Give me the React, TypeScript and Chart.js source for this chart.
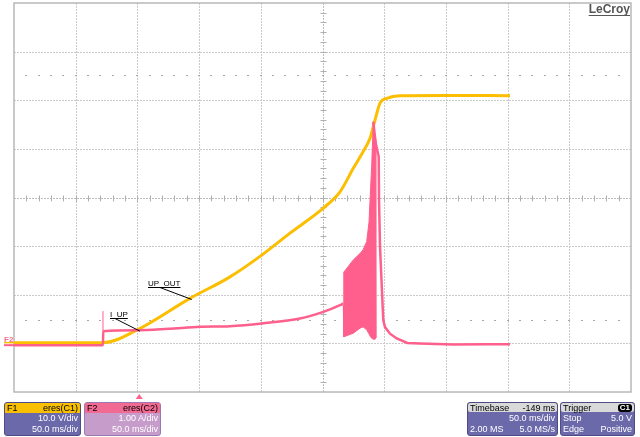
import React, { useEffect, useRef } from "react";
import { Chart, registerables } from "chart.js";

Chart.register(...registerables);

// ---- Data (x in divisions 0..10, y in divisions -4..4) ----
const yellowX = [0, 1.442, 1.989, 2.853, 3.501, 4.015, 4.473, 5.013, 5.284, 5.499, 5.65, 5.77, 5.851, 5.932, 6.041, 6.256, 7.0, 8.039];
const yellowY = [-2.985, -2.985, -2.728, -2.074, -1.632, -1.185, -0.733, -0.218, 0.117, 0.599, 0.925, 1.22, 1.593, 1.942, 2.039, 2.093, 2.1, 2.093];

const pinkPreX = [0, 1.442, 1.446, 2.0, 2.5, 3.015, 3.5, 4.015, 4.635, 5.013, 5.284, 5.337];
const pinkPreY = [-3.037, -3.037, -2.749, -2.728, -2.7, -2.66, -2.646, -2.59, -2.49, -2.352, -2.214, -2.179];

const pinkPostX = [5.823, 5.862, 5.911, 5.916, 5.932, 5.985, 6.013, 6.094, 6.203, 6.374, 6.58, 7.12, 7.661, 8.039];
const pinkPostY = [1.558, 1.119, 0.837, -0.053, -1.014, -2.523, -2.666, -2.8, -2.9, -2.99, -3.002, -3.023, -3.016, -3.016];

const bandX = [5.337, 5.345, 5.499, 5.608, 5.657, 5.716, 5.754, 5.778, 5.797, 5.823, 5.851, 5.862, 5.867];
const bandUpper = [-2.179, -1.535, -1.284, -1.15, -1.078, -0.907, -0.506, 0.152, 0.646, 1.558, 1.181, -0.053, -2.89];
const bandLower = [-2.214, -2.866, -2.79, -2.687, -2.66, -2.722, -2.805, -2.866, -2.893, -2.913, -2.913, -2.913, -2.913];

const spikeX = [1.442, 1.442];
const spikeY = [-2.749, -2.337];

const gridXDivs = [1, 2, 3, 4, 6, 7, 8, 9];
const gridYDivs = [-3, -2, -1, 1, 2, 3];
const markerLevels = [2.52, -2.52];

const annotationLabels = ["UP_OUT", "I_UP"];
const annotationTextX = [2.172, 1.556];
const annotationTextY = [-1.837, -2.481];
const annotationStartX = [2.366, 1.637];
const annotationTipX = [2.88, 2.042];
const annotationTipY = [-2.097, -2.749];

const triggerX = 2.03;

const YELLOW = "#FCBE00";
const PINK = "#FF5F8C";
const FONT = '"Liberation Sans", Arial, sans-serif';

const toXY = (xs: number[], ys: number[]) => xs.map((x, i) => ({ x, y: ys[i] }));

const scopePlugin = {
  id: "scope",
  beforeDatasetsDraw(chart: any) {
    const { ctx, chartArea: a, scales } = chart;
    const xs = scales.x;
    const ys = scales.y;
    ctx.save();
    ctx.lineWidth = 1;
    ctx.strokeStyle = "#cbcbcb";
    ctx.setLineDash([2, 1]);
    for (const v of gridXDivs) {
      const px = Math.round(xs.getPixelForValue(v)) + 0.5;
      ctx.beginPath();
      ctx.moveTo(px, a.top);
      ctx.lineTo(px, a.bottom);
      ctx.stroke();
    }
    for (const v of gridYDivs) {
      const py = Math.round(ys.getPixelForValue(v)) + 0.5;
      ctx.beginPath();
      ctx.moveTo(a.left, py);
      ctx.lineTo(a.right, py);
      ctx.stroke();
    }
    // center axes
    ctx.strokeStyle = "#bdbdbd";
    const cx = Math.round(xs.getPixelForValue(5)) + 0.5;
    const cy = Math.round(ys.getPixelForValue(0)) + 0.5;
    ctx.beginPath();
    ctx.moveTo(cx, a.top);
    ctx.lineTo(cx, a.bottom);
    ctx.moveTo(a.left, cy);
    ctx.lineTo(a.right, cy);
    ctx.stroke();
    ctx.setLineDash([]);
    ctx.strokeStyle = "#b0b0b0";
    ctx.beginPath();
    for (let i = 1; i < 50; i++) {
      const px = Math.round(xs.getPixelForValue(i * 0.2)) + 0.5;
      ctx.moveTo(px, cy - 3);
      ctx.lineTo(px, cy + 3);
    }
    for (let i = 1; i < 40; i++) {
      const py = Math.round(ys.getPixelForValue(-4 + i * 0.2)) + 0.5;
      ctx.moveTo(cx - 3, py);
      ctx.lineTo(cx + 3, py);
    }
    ctx.stroke();
    // level markers (dotted)
    ctx.fillStyle = "#a8a8a8";
    for (const lv of markerLevels) {
      const py = Math.round(ys.getPixelForValue(lv));
      for (let i = 1; i < 50; i++) {
        const px = Math.round(xs.getPixelForValue(i * 0.2));
        ctx.fillRect(px - 1, py, 2, 1);
      }
    }
    // frame
    ctx.strokeStyle = "#b8b8b8";
    ctx.lineWidth = 1.5;
    ctx.strokeRect(a.left, a.top, a.right - a.left, a.bottom - a.top);
    ctx.restore();
  },
  afterDatasetsDraw(chart: any) {
    const { ctx, chartArea: a, scales } = chart;
    const xs = scales.x;
    const ys = scales.y;
    ctx.save();
    ctx.font = `8px ${FONT}`;
    ctx.fillStyle = "#000";
    ctx.strokeStyle = "#000";
    ctx.lineWidth = 1;
    annotationLabels.forEach((label, i) => {
      const tx = xs.getPixelForValue(annotationTextX[i]);
      const ty = Math.round(ys.getPixelForValue(annotationTextY[i])) + 0.5;
      ctx.textBaseline = "alphabetic";
      ctx.fillText(label, tx, ty - 2);
      const w = ctx.measureText(label).width;
      ctx.beginPath();
      ctx.moveTo(tx, ty);
      ctx.lineTo(tx + w, ty);
      ctx.moveTo(xs.getPixelForValue(annotationStartX[i]), ty);
      ctx.lineTo(xs.getPixelForValue(annotationTipX[i]), ys.getPixelForValue(annotationTipY[i]));
      ctx.stroke();
    });
    // trigger marker
    const trx = xs.getPixelForValue(triggerX);
    ctx.fillStyle = PINK;
    ctx.beginPath();
    ctx.moveTo(trx, a.bottom + 2);
    ctx.lineTo(trx - 3.5, a.bottom + 7);
    ctx.lineTo(trx + 3.5, a.bottom + 7);
    ctx.closePath();
    ctx.fill();
    // F2 ground marker
    const yl = ys.getPixelForValue(yellowY[0]);
    const pl = ys.getPixelForValue(pinkPreY[0]);
    ctx.strokeStyle = YELLOW;
    ctx.lineWidth = 1.5;
    ctx.beginPath();
    ctx.moveTo(4, yl);
    ctx.lineTo(a.left, yl);
    ctx.stroke();
    ctx.strokeStyle = PINK;
    ctx.lineWidth = 2;
    ctx.beginPath();
    ctx.moveTo(4, pl);
    ctx.lineTo(a.left, pl);
    ctx.stroke();
    ctx.fillStyle = "#F0708C";
    ctx.font = `bold 8px ${FONT}`;
    ctx.fillText("F2", 4, yl - 1);
    // LeCroy logo
    ctx.fillStyle = "#555";
    ctx.font = `bold 12px ${FONT}`;
    ctx.textAlign = "right";
    ctx.fillText("LeCroy", a.right - 1, 13);
    const lw = ctx.measureText("LeCroy").width;
    ctx.strokeStyle = "#555";
    ctx.lineWidth = 1;
    ctx.beginPath();
    ctx.moveTo(a.right - 1 - lw, 15.5);
    ctx.lineTo(a.right - 1, 15.5);
    ctx.stroke();
    ctx.restore();
  },
};

type Row = [string, string];

function Panel(props: {
  left: number;
  width: number;
  head: Row;
  rows: Row[];
  headBg: string;
  body: string;
  border: string;
  inset?: boolean;
  badge?: boolean;
}) {
  const { left, width, head, rows, headBg, body, border, inset, badge } = props;
  return (
    <div
      style={{
        position: "absolute",
        left,
        top: 402,
        width,
        height: 34,
        boxSizing: "border-box",
        border: `1px solid ${border}`,
        borderRadius: 3,
        background: body,
        overflow: "hidden",
        font: `9px ${FONT}`,
      }}
    >
      <div
        style={{
          height: inset ? 9 : 10,
          margin: inset ? "0 0 1px 0" : 0,
          borderRadius: inset ? 2 : 0,
          background: headBg,
          color: "#000",
          display: "flex",
          justifyContent: "space-between",
          alignItems: "center",
          padding: "0 2px",
          lineHeight: "10px",
        }}
      >
        <span>{head[0]}</span>
        {badge ? (
          <span
            style={{
              background: "#000",
              color: "#fff",
              borderRadius: 3,
              padding: "0 2px",
              fontSize: 8,
              fontWeight: "bold",
              lineHeight: "8px",
            }}
          >
            {head[1]}
          </span>
        ) : (
          <span>{head[1]}</span>
        )}
      </div>
      {rows.map((r, i) => (
        <div
          key={i}
          style={{
            height: 11,
            lineHeight: "11px",
            display: "flex",
            justifyContent: "space-between",
            padding: "0 2px",
            color: "#fff",
          }}
        >
          <span>{r[0]}</span>
          <span>{r[1]}</span>
        </div>
      ))}
    </div>
  );
}

export default function App() {
  const canvasRef = useRef<HTMLCanvasElement | null>(null);
  useEffect(() => {
    document.body.style.margin = "0";
    const canvas = canvasRef.current;
    if (!canvas) return;
    const chart = new Chart(canvas, {
      type: "line",
      data: {
        datasets: [
          {
            data: toXY(pinkPreX, pinkPreY),
            borderColor: PINK,
            borderWidth: 2.5,
            pointRadius: 0,
            cubicInterpolationMode: "monotone",
            fill: false,
          },
          {
            data: toXY(pinkPostX, pinkPostY),
            borderColor: PINK,
            borderWidth: 2.5,
            pointRadius: 0,
            fill: false,
          },
          {
            data: toXY(bandX, bandUpper),
            borderColor: PINK,
            backgroundColor: PINK,
            borderWidth: 1,
            pointRadius: 0,
            fill: "+1",
          },
          {
            data: toXY(bandX, bandLower),
            borderColor: PINK,
            borderWidth: 1,
            pointRadius: 0,
            fill: false,
          },
          {
            data: toXY(spikeX, spikeY),
            borderColor: PINK,
            borderWidth: 1,
            pointRadius: 0,
            fill: false,
          },
          {
            data: toXY(yellowX, yellowY),
            borderColor: YELLOW,
            borderWidth: 3,
            pointRadius: 0,
            cubicInterpolationMode: "monotone",
            fill: false,
          },
        ],
      } as any,
      options: {
        animation: false,
        responsive: false,
        events: [],
        layout: { padding: { left: 14, top: 3, right: 9, bottom: 45 } },
        scales: {
          x: { type: "linear", min: 0, max: 10, display: false },
          y: { type: "linear", min: -4, max: 4, display: false },
        },
        plugins: {
          legend: { display: false },
          tooltip: { enabled: false },
        },
      } as any,
      plugins: [scopePlugin],
    });
    return () => chart.destroy();
  }, []);

  return (
    <div style={{ position: "relative", width: 640, height: 437, background: "#fff", overflow: "hidden" }}>
      <canvas ref={canvasRef} width={640} height={437} style={{ position: "absolute", left: 0, top: 0 }} />
      <Panel
        left={4}
        width={77}
        head={["F1", "eres(C1)"]}
        rows={[["", "10.0 V/div"], ["", "50.0 ms/div"]]}
        headBg="#F8C000"
        body="#6B69AA"
        border="#4E4B88"
      />
      <Panel
        left={84}
        width={77}
        head={["F2", "eres(C2)"]}
        rows={[["", "1.00 A/div"], ["", "50.0 ms/div"]]}
        headBg="#F06A94"
        body="#C69CCB"
        border="#9C78B0"
      />
      <Panel
        left={467}
        width={91}
        head={["Timebase", "-149 ms"]}
        rows={[["", "50.0 ms/div"], ["2.00 MS", "5.0 MS/s"]]}
        headBg="#D9D9D9"
        body="#6B69AA"
        border="#4E4B88"
        inset
      />
      <Panel
        left={560}
        width={75}
        head={["Trigger", "C1"]}
        rows={[["Stop", "5.0 V"], ["Edge", "Positive"]]}
        headBg="#D9D9D9"
        body="#6B69AA"
        border="#4E4B88"
        inset
        badge
      />
    </div>
  );
}
